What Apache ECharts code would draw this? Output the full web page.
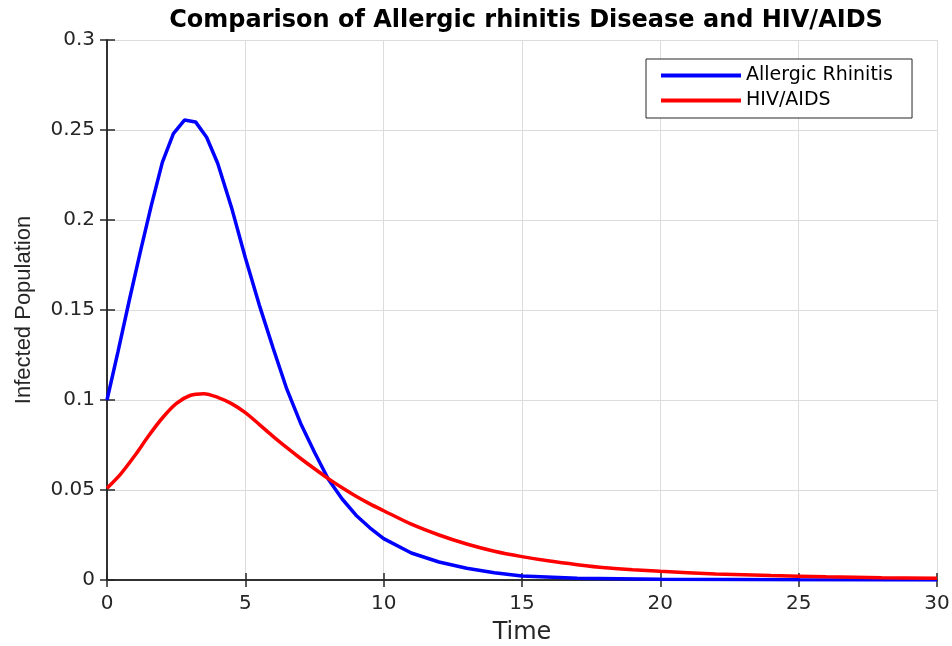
<!DOCTYPE html>
<html>

<head>
    <meta charset="utf-8">
    <title>ECharts</title>
    <script src="https://cdn.jsdelivr.net/npm/echarts@6/dist/echarts.min.js"></script>
    <style>
        html, body { margin: 0; padding: 0; background: #fff; }
    </style>
</head>

<body>
    <div id="main" style="width: 952px;height:646px;"></div>
    <script type="text/javascript">
        // values
        const arTime = [0, 0.4, 0.8, 1.2, 1.6, 2.0, 2.4, 2.8, 3.2, 3.6, 4.0, 4.5, 5.0, 5.5, 6.0, 6.5, 7.0, 7.5, 8.0, 8.5, 9.0, 9.5, 10, 11, 12, 13, 14, 15, 17, 20, 25, 30]
        const arValues = [0.100, 0.127, 0.155, 0.182, 0.208, 0.232, 0.248, 0.2555, 0.2545, 0.246, 0.2315, 0.207, 0.179, 0.153, 0.129, 0.106, 0.087, 0.071, 0.056, 0.045, 0.036, 0.029, 0.023, 0.015, 0.0100, 0.0065, 0.0040, 0.0022, 0.0010, 0.0004, 0.0001, 0.0000]
        const hivTime = [0, 0.5, 1.0, 1.5, 2.0, 2.5, 3.0, 3.5, 4.0, 4.5, 5.0, 5.5, 6.0, 6.5, 7.0, 7.5, 8.0, 8.5, 9.0, 9.5, 10, 11, 12, 13, 14, 15, 16, 17, 18, 19, 20, 22, 24, 26, 28, 30]
        const hivValues = [0.051, 0.059, 0.069, 0.080, 0.090, 0.098, 0.1025, 0.1035, 0.1015, 0.098, 0.093, 0.0865, 0.0798, 0.0735, 0.0675, 0.0618, 0.0563, 0.0512, 0.0465, 0.0423, 0.0385, 0.031, 0.025, 0.020, 0.016, 0.013, 0.0105, 0.0085, 0.0068, 0.0057, 0.0048, 0.0034, 0.0025, 0.0018, 0.0013, 0.0010]
        const seriesNames = ['Allergic Rhinitis', 'HIV/AIDS']

        const pairs = (xs, ys) => xs.map((x, i) => [x, ys[i]])

        const font = 'DejaVu Sans, Liberation Sans, sans-serif'
        const axisColor = '#262626'

        var myChart = echarts.init(document.getElementById('main'));

        // box round the plot, ticks pointing inwards like the reference
        const frameAxis = (pos) => ({
            type: 'value',
            position: pos,
            min: 0,
            max: pos === 'top' ? 30 : 0.3,
            interval: pos === 'top' ? 5 : 0.05,
            axisLine: { show: true, lineStyle: { color: axisColor, width: 1.5 } },
            axisTick: { show: true, inside: true, length: 7, lineStyle: { color: axisColor, width: 1.5 } },
            axisLabel: { show: false },
            splitLine: { show: false }
        })

        var option = {
            animation: false,
            backgroundColor: '#fff',
            title: {
                text: 'Comparison of Allergic rhinitis Disease and HIV/AIDS',
                left: 521,
                textAlign: 'center',
                top: 4,
                textStyle: { fontFamily: font, fontSize: 24, fontWeight: 'bold', color: '#000' }
            },
            legend: {
                data: seriesNames,
                orient: 'vertical',
                left: 646,
                top: 59,
                padding: [7, 19, 8, 15],
                itemGap: 6,
                itemWidth: 80,
                itemHeight: 4,
                icon: 'rect',
                backgroundColor: '#fff',
                borderColor: axisColor,
                borderWidth: 1,
                textStyle: { fontFamily: font, fontSize: 19, color: '#000' }
            },
            grid: {
                left: 107,
                right: 15,
                top: 40,
                bottom: 66,
                containLabel: false,
                outerBoundsMode: 'none'
            },
            xAxis: [{
                type: 'value',
                min: 0,
                max: 30,
                interval: 5,
                name: 'Time',
                nameLocation: 'middle',
                nameGap: 41,
                nameTextStyle: { fontFamily: font, fontSize: 24, color: axisColor },
                axisLine: { show: true, onZero: false, lineStyle: { color: axisColor, width: 1.5 } },
                axisTick: { show: true, inside: true, length: 7, lineStyle: { color: axisColor, width: 1.5 } },
                axisLabel: { fontFamily: font, fontSize: 20, color: axisColor, margin: 14 },
                splitLine: { show: true, lineStyle: { color: '#dcdcdc', width: 1 } }
            }, frameAxis('top')],
            yAxis: [{
                type: 'value',
                min: 0,
                max: 0.3,
                interval: 0.05,
                name: 'Infected Population',
                nameLocation: 'middle',
                nameGap: 72,
                nameTextStyle: { fontFamily: 'Liberation Sans, Arial, sans-serif', fontSize: 22, color: axisColor },
                axisLine: { show: true, onZero: false, lineStyle: { color: axisColor, width: 1.5 } },
                axisTick: { show: true, inside: true, length: 8, lineStyle: { color: axisColor, width: 1.5 } },
                axisLabel: { fontFamily: font, fontSize: 20, color: axisColor, margin: 12 },
                splitLine: { show: true, lineStyle: { color: '#dcdcdc', width: 1 } }
            }, frameAxis('right')],
            series: [{
                name: seriesNames[0],
                type: 'line',
                data: pairs(arTime, arValues),
                showSymbol: false,
                smooth: false,
                color: '#0000ff',
                lineStyle: { color: '#0000ff', width: 3.5 }
            }, {
                name: seriesNames[1],
                type: 'line',
                data: pairs(hivTime, hivValues),
                showSymbol: false,
                smooth: 0.3,
                color: '#ff0000',
                lineStyle: { color: '#ff0000', width: 3.5 }
            }]
        };

        myChart.setOption(option);
    </script>
</body>

</html>
